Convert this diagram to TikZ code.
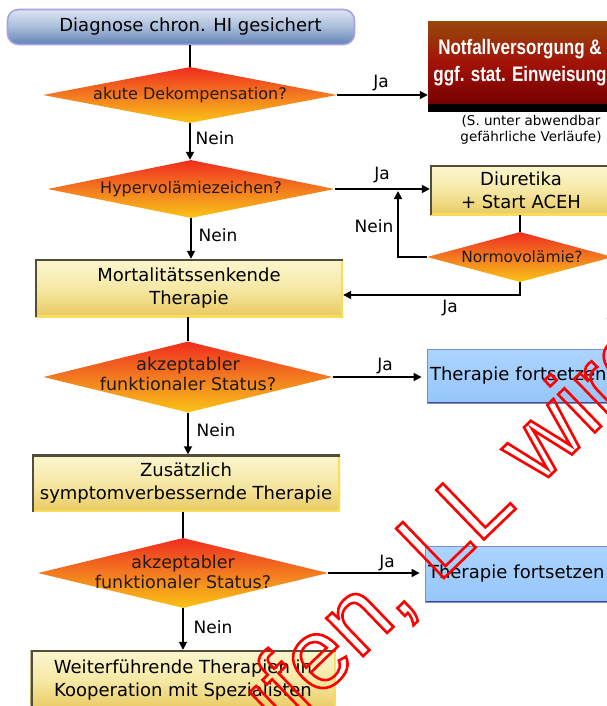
\documentclass[tikz,border=0pt]{standalone}
\usepackage{fontspec}
\setmainfont{DejaVu Sans}
\newfontfamily\narrowbold{Liberation Sans}[FakeStretch=0.81]
\newfontfamily\stampfont{Liberation Sans}
\usetikzlibrary{shapes.geometric,arrows.meta,shadows}

% palette
\definecolor{goldtop}{RGB}{251,246,208}
\definecolor{goldmid}{RGB}{246,232,165}
\definecolor{goldbot}{RGB}{233,202,96}
\definecolor{goldedge}{RGB}{82,78,58}
\definecolor{goldglow}{RGB}{248,220,90}
\definecolor{diatop}{RGB}{240,45,30}
\definecolor{diamid}{RGB}{243,122,32}
\definecolor{diabot}{RGB}{250,196,22}
\definecolor{diatext}{RGB}{35,25,20}
\definecolor{bluefill}{RGB}{150,198,250}
\definecolor{bluetop}{RGB}{172,212,255}
\definecolor{blueedge}{RGB}{128,140,210}
\definecolor{bluedark}{RGB}{70,72,140}
\definecolor{starttop}{RGB}{222,229,243}
\definecolor{startmid}{RGB}{168,188,218}
\definecolor{startbot}{RGB}{98,130,180}
\definecolor{startedge}{RGB}{168,160,226}
\definecolor{alarmtop}{RGB}{150,72,12}
\definecolor{alarmmid}{RGB}{162,18,8}
\definecolor{alarmbot}{RGB}{118,0,0}
\definecolor{stampred}{RGB}{255,0,0}

% outlined (stroked, unfilled) glyphs
\newcommand\stampoutline[1]{\special{pdf:literal direct 1 Tr 2.6 w}#1\special{pdf:literal direct 0 Tr}}

\tikzset{
  conn/.style={line width=1.7pt, draw=black},
  arr/.style={conn, -{Triangle[length=8pt,width=8pt]}},
  lbl/.style={inner sep=0pt, font=\fontsize{17}{20}\selectfont},
  goldbox/.style={rectangle, inner sep=0pt, align=center,
    font=\fontsize{18}{23}\selectfont,
    top color=goldtop, bottom color=goldbot, middle color=goldmid,
    path picture={
      \draw[line width=4pt, goldglow]
        (path picture bounding box.north east) -- (path picture bounding box.south east)
        -- (path picture bounding box.south west);
      \draw[line width=4pt, goldedge]
        (path picture bounding box.south west) -- (path picture bounding box.north west)
        -- (path picture bounding box.north east);
    }},
  decision/.style={diamond, inner sep=0pt,
    top color=diatop, bottom color=diabot, middle color=diamid},
  dtext/.style={inner sep=0pt, align=center, text=diatext,
    font=\fontsize{16}{19.5}\selectfont},
  bluebox/.style={rectangle, inner ysep=0pt, inner xsep=3pt, text width=188pt,
    align=left, font=\fontsize{18}{23}\selectfont,
    top color=bluetop, bottom color=bluefill, draw=blueedge, line width=0.8pt,
    path picture={
      \draw[line width=3pt, bluedark]
        (path picture bounding box.south west) -- (path picture bounding box.south east);
    }},
  startbox/.style={rectangle, rounded corners=11pt, draw=startedge, line width=1.6pt,
    top color=starttop, bottom color=startbot, middle color=startmid,
    font=\fontsize{18}{22}\selectfont, inner sep=0pt},
  alarmbox/.style={rectangle, inner sep=0pt, align=center, text=white,
    font=\narrowbold\bfseries\fontsize{21}{27}\selectfont,
    top color=alarmtop, bottom color=alarmbot, middle color=alarmmid,
    drop shadow={shadow xshift=0pt, shadow yshift=-8pt, fill=black, opacity=1}},
  hinttext/.style={inner sep=0pt, align=center, font=\fontsize{13.5}{15.5}\selectfont},
  stamp/.style={inner sep=0pt, rotate=44, text=stampred,
    font=\stampfont\fontsize{100}{100}\selectfont},
}

\begin{document}
\begin{tikzpicture}[x=1pt,y=-1pt]
\useasboundingbox (0,0) rectangle (607,706);
\clip (0,0) rectangle (607,706);

% boxes and decisions
\node[startbox, minimum width=347pt, minimum height=35pt] (start) at (181,27)
  {\hspace*{19pt}Diagnose chron. HI gesichert};

\node[decision, minimum width=294pt, minimum height=56pt] (d1) at (190,95) {};
\node[dtext] (d1t) at (d1.center) {akute Dekompensation?};

\node[alarmbox, minimum width=184pt, minimum height=82pt] (alarm) at (520,63)
  {Notfallversorgung \&\\ggf. stat. Einweisung};
\node[hinttext] (hint) at (531,130) {(S. unter abwendbar\\gefährliche Verläufe)};

\node[decision, minimum width=287pt, minimum height=58pt] (d2) at (191,189) {};
\node[dtext] (d2t) at (d2.center) {Hypervolämiezeichen?};

\node[goldbox, minimum width=182pt, minimum height=50pt] (diur) at (521,190)
  {Diuretika\\+ Start ACEH};

\node[decision, minimum width=186pt, minimum height=50pt] (normo) at (520,257) {};
\node[dtext, font=\fontsize{15.5}{19}\selectfont] (normot) at ([xshift=2pt]normo.center)
  {Normovolämie?};

\node[goldbox, minimum width=308pt, minimum height=58pt] (mort) at (189,288)
  {Mortalitätssenkende\\Therapie};

\node[decision, minimum width=289pt, minimum height=71pt] (d3) at (188,377) {};
\node[dtext, font=\fontsize{17.5}{19.5}\selectfont] (d3t) at ([yshift=3pt]d3.center)
  {akzeptabler\\funktionaler Status?};

\node[bluebox, minimum height=54pt] (cont1) at (524,376) {Therapie fortsetzen};

\node[goldbox, minimum width=308pt, minimum height=57pt] (extra) at (186,483)
  {Zusätzlich\\symptomverbessernde Therapie};

\node[decision, minimum width=290pt, minimum height=70pt] (d4) at (183,573) {};
\node[dtext, font=\fontsize{17.5}{19.5}\selectfont] (d4t) at ([yshift=1pt]d4.center)
  {akzeptabler\\funktionaler Status?};

\node[bluebox, minimum height=56pt] (cont2) at (522,574) {Therapie fortsetzen};

\node[goldbox, minimum width=305pt, minimum height=60pt] (spec) at (183,680)
  {Weiterführende Therapien in\\Kooperation mit Spezialisten};

% connectors
\draw[conn] (d1.north |- start.south) -- (d1.north);
\draw[arr] (d1.east) -- (d1.east -| alarm.west);
\draw[arr] (d1.south) -- (d1.south |- d2.north);
\draw[arr] (d2.east) -- (d2.east -| diur.west);
\draw[conn] (diur.south -| normo.north) -- (normo.north);
\coordinate (loopend) at (398,191);
\draw[arr] (normo.west) -| (loopend);
\draw[arr] (normo.south) |- ([yshift=-7pt]mort.east);
\draw[arr] (d2.south) -- (d2.south |- mort.north);
\draw[conn] (d3.north |- mort.south) -- (d3.north);
\draw[arr, shorten >=5pt] (d3.east) -- (d3.east -| cont1.west);
\draw[arr] (d3.south) -- (d3.south |- extra.north);
\draw[conn] (d4.north |- extra.south) -- (d4.north);
\draw[arr, shorten >=5pt] (d4.east) -- (d4.east -| cont2.west);
\draw[arr] (d4.south) -- (d4.south |- spec.north);

% branch labels
\node[lbl] (ja1) at (381,83) {Ja};
\node[lbl] (nein1) at (215,138) {Nein};
\node[lbl] (ja2) at (382,175) {Ja};
\node[lbl] (nein2) at (218,235) {Nein};
\node[lbl] (nein5) at (374,226) {Nein};
\node[lbl] (ja5) at (450,308) {Ja};
\node[lbl] (ja3) at (385,366) {Ja};
\node[lbl] (nein3) at (216,430) {Nein};
\node[lbl] (ja4) at (387,563) {Ja};
\node[lbl] (nein4) at (213,627) {Nein};

% diagonal stamp
\coordinate (stampbase) at (298,719);
\node[stamp, anchor=base east] (stampa) at (stampbase) {\stampoutline{abgelau}};
\node[stamp, anchor=base west] (stampb) at (stampbase) {\stampoutline{fen, LL wird}};
\end{tikzpicture}
\end{document}
